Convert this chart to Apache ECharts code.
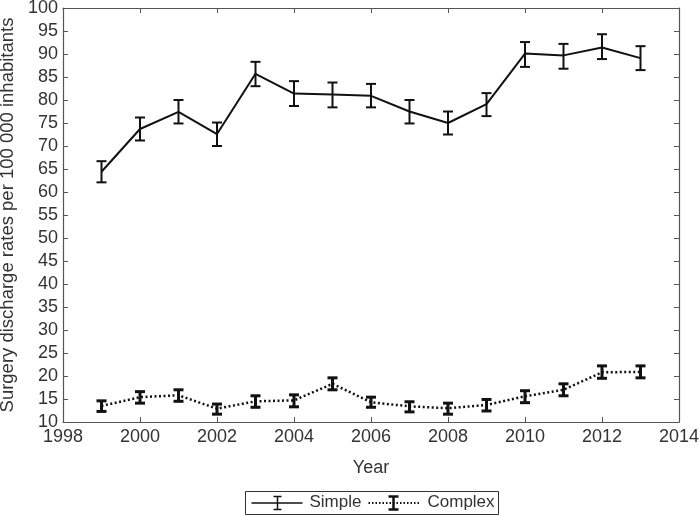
<!DOCTYPE html>
<html>
<head>
<meta charset="utf-8">
<script src="https://cdn.jsdelivr.net/npm/echarts@6/dist/echarts.min.js"></script>
<style>
  html, body { margin: 0; padding: 0; background: #fff; }
  #chart { width: 700px; height: 516px; }
</style>
</head>
<body>
<div id="chart"></div>
<script>
'use strict';
// years and rates
var years = [1999, 2000, 2001, 2002, 2003, 2004, 2005, 2006, 2007, 2008, 2009, 2010, 2011, 2012, 2013];

var simpleRate  = [64.4, 73.7, 77.4, 72.6, 85.7, 81.4, 81.2, 80.9, 77.5, 75.0, 79.1, 90.1, 89.7, 91.4, 89.1];
var simpleLow   = [62.1, 71.2, 74.9, 70.0, 83.0, 78.7, 78.4, 78.4, 74.9, 72.5, 76.5, 87.2, 86.8, 88.9, 86.5];
var simpleHigh  = [66.7, 76.2, 80.0, 75.1, 88.3, 84.1, 83.8, 83.5, 80.0, 77.5, 81.5, 92.6, 92.2, 94.3, 91.7];

var complexRate = [13.5, 15.4, 15.8, 12.9, 14.5, 14.7, 18.3, 14.3, 13.4, 13.0, 13.7, 15.6, 17.0, 20.8, 20.9];
var complexLow  = [12.3, 14.1, 14.5, 11.7, 13.2, 13.3, 17.0, 13.2, 12.2, 11.7, 12.4, 14.2, 15.7, 19.5, 19.6];
var complexHigh = [14.6, 16.6, 17.0, 13.9, 15.7, 15.9, 19.6, 15.4, 14.4, 14.1, 14.9, 16.8, 18.3, 22.2, 22.2];

var seriesNames = ['Simple', 'Complex'];

var textColor = '#333';
var axisColor = '#555';
var font = 'Liberation Sans, Arial, sans-serif';

function pairs(xs, ys) {
    return xs.map(function(x, i) { return [x, ys[i]]; });
}

function errData(xs, lo, hi) {
    return xs.map(function(x, i) { return [x, lo[i], hi[i]]; });
}

// vertical bar with caps, drawn through the axes
function errorBarRenderer(lw) {
    return function(params, api) {
        var x = api.value(0);
        var lo = api.coord([x, api.value(1)]);
        var hi = api.coord([x, api.value(2)]);
        var half = 5;
        var style = { stroke: '#111', lineWidth: lw, fill: null };
        return {
            type: 'group',
            children: [
                { type: 'line', shape: { x1: lo[0], y1: lo[1], x2: hi[0], y2: hi[1] }, style: style },
                { type: 'line', shape: { x1: hi[0] - half, y1: hi[1], x2: hi[0] + half, y2: hi[1] }, style: style },
                { type: 'line', shape: { x1: lo[0] - half, y1: lo[1], x2: lo[0] + half, y2: lo[1] }, style: style }
            ]
        };
    };
}

var chart = echarts.init(document.getElementById('chart'));

var tickStyle = { show: true, inside: true, length: 5, lineStyle: { color: axisColor, width: 1 } };
var lineStyleAxis = { show: true, lineStyle: { color: axisColor, width: 1.2 } };

var option = {
    backgroundColor: '#fff',
    animation: false,
    grid: { left: 63, right: 21, top: 8, bottom: 94, containLabel: false, outerBoundsMode: 'none' },
    xAxis: [{
        type: 'value', min: 1998, max: 2014, interval: 2,
        name: 'Year', nameLocation: 'middle', nameGap: 37,
        nameTextStyle: { color: textColor, fontSize: 18, fontFamily: font },
        axisLine: lineStyleAxis, axisTick: tickStyle,
        axisLabel: { color: textColor, fontSize: 18, fontFamily: font, margin: 6,
                     formatter: function(v) { return String(v); } },
        splitLine: { show: false }
    }, {
        type: 'value', min: 1998, max: 2014, interval: 2, position: 'top',
        axisLine: lineStyleAxis, axisTick: tickStyle,
        axisLabel: { show: false }, splitLine: { show: false }
    }],
    yAxis: [{
        type: 'value', min: 10, max: 100, interval: 5,
        name: 'Surgery discharge rates per 100 000 inhabitants',
        nameLocation: 'middle', nameGap: 44,
        nameTextStyle: { color: textColor, fontSize: 18.5, fontFamily: font },
        axisLine: lineStyleAxis, axisTick: tickStyle,
        axisLabel: { color: textColor, fontSize: 18, fontFamily: font, margin: 5 },
        splitLine: { show: false }
    }, {
        type: 'value', min: 10, max: 100, interval: 5, position: 'right',
        axisLine: lineStyleAxis, axisTick: tickStyle,
        axisLabel: { show: false }, splitLine: { show: false }
    }],
    series: [{
        name: seriesNames[0], type: 'line',
        data: pairs(years, simpleRate),
        symbol: 'none',
        lineStyle: { color: '#111', width: 2 },
        z: 3
    }, {
        name: seriesNames[0] + ' err', type: 'custom',
        data: errData(years, simpleLow, simpleHigh),
        renderItem: errorBarRenderer(2),
        encode: { x: 0, y: [1, 2] },
        z: 4
    }, {
        name: seriesNames[1], type: 'line',
        data: pairs(years, complexRate),
        symbol: 'none',
        lineStyle: { color: '#111', width: 2.5, type: [2, 2.5] },
        z: 3
    }, {
        name: seriesNames[1] + ' err', type: 'custom',
        data: errData(years, complexLow, complexHigh),
        renderItem: errorBarRenderer(3),
        encode: { x: 0, y: [1, 2] },
        z: 4
    }],
    // legend drawn by hand to show line + error bar glyph
    graphic: [{
        type: 'group', left: 245, top: 491,
        children: [
            { type: 'rect', shape: { x: 0, y: 0, width: 253, height: 23 },
              style: { fill: '#fff', stroke: '#333', lineWidth: 1 } },
            { type: 'line', shape: { x1: 6, y1: 11.5, x2: 57, y2: 11.5 }, style: { stroke: '#111', lineWidth: 1.5 } },
            { type: 'line', shape: { x1: 32, y1: 5, x2: 32, y2: 18 }, style: { stroke: '#111', lineWidth: 1.5 } },
            { type: 'line', shape: { x1: 28, y1: 5, x2: 36, y2: 5 }, style: { stroke: '#111', lineWidth: 1.5 } },
            { type: 'line', shape: { x1: 28, y1: 18, x2: 36, y2: 18 }, style: { stroke: '#111', lineWidth: 1.5 } },
            { type: 'text', x: 64, y: 2.5, style: { text: seriesNames[0], fill: textColor, font: '17px ' + font } },
            { type: 'line', shape: { x1: 123, y1: 11.5, x2: 175, y2: 11.5 }, style: { stroke: '#111', lineWidth: 2, lineDash: [1.5, 2] } },
            { type: 'line', shape: { x1: 148, y1: 5, x2: 148, y2: 18 }, style: { stroke: '#111', lineWidth: 2.5 } },
            { type: 'line', shape: { x1: 143, y1: 5, x2: 153, y2: 5 }, style: { stroke: '#111', lineWidth: 2.5 } },
            { type: 'line', shape: { x1: 143, y1: 18, x2: 153, y2: 18 }, style: { stroke: '#111', lineWidth: 2.5 } },
            { type: 'text', x: 182, y: 2.5, style: { text: seriesNames[1], fill: textColor, font: '17px ' + font } }
        ]
    }]
};

chart.setOption(option);
</script>
</body>
</html>
